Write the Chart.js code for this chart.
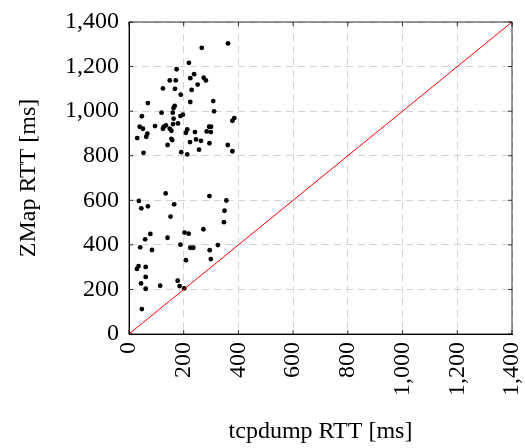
<!DOCTYPE html>
<html>
<head>
<meta charset="utf-8">
<script src="https://cdn.jsdelivr.net/npm/chart.js@4/dist/chart.umd.min.js"></script>
<style>
  html, body { margin: 0; padding: 0; background: #fff; }
  #chart { display: block; }
</style>
</head>
<body>
<canvas id="chart" width="525" height="448"></canvas>
<script>
// tcpdump RTT (x) vs ZMap RTT (y), both in ms
const tcpdumpRtt = [
  362, 266, 219, 174, 238, 224, 149, 171, 273, 281, 251, 124, 168, 229, 189,
  69, 224, 308, 167, 163, 119, 160, 311, 47, 188, 197, 163, 385, 378, 179,
  161, 39, 51, 95, 127, 135, 124, 149, 155, 213, 208, 241, 293, 300, 284,
  299, 67, 63, 30, 155, 158, 223, 245, 263, 294, 141, 361, 256, 378, 53,
  191, 213,
  134, 294, 36, 356, 45, 69, 165, 349, 152, 347, 272, 78, 203, 218, 59,
  141, 41, 188, 84, 224, 235, 295, 325, 208, 299, 35, 29, 61, 61, 44,
  61, 114, 178, 185, 202, 47
];
const zmapRtt = [
  1304, 1284, 1217, 1188, 1166, 1148, 1138, 1138, 1150, 1138, 1119, 1102, 1100, 1095, 1074,
  1036, 1041, 1045, 1023, 1014, 993, 993, 999, 977, 978, 984, 966, 969, 957, 945,
  942, 930, 921, 933, 930, 936, 921, 921, 912, 918, 903, 906, 930, 930, 909,
  906, 899, 885, 879, 876, 870, 861, 873, 867, 856, 848, 848, 827, 820, 813,
  816, 806,
  631, 619, 597, 599, 564, 573, 582, 553, 527, 502, 470, 449, 455, 450, 425,
  432, 389, 401, 377, 387, 387, 376, 399, 331, 336, 305, 292, 301, 256, 227,
  203, 217, 239, 215, 205, 112
];
// reference line y = x
const diagonalX = [0, 1400];
const diagonalY = [0, 1400];
const tickValues = [0, 200, 400, 600, 800, 1000, 1200, 1400];

const serif = "'Liberation Serif', 'DejaVu Serif', serif";
const fmt = v => Number(v).toLocaleString("en-US");

const points = tcpdumpRtt.map((x, i) => ({ x: x, y: zmapRtt[i] }));
const diagonal = diagonalX.map((x, i) => ({ x: x, y: diagonalY[i] }));

// little inward tick marks on all four sides, like pgfplots
const tickMarks = {
  id: "tickMarks",
  afterDraw(chart) {
    const { ctx, chartArea: a, scales } = chart;
    ctx.save();
    ctx.strokeStyle = "#000";
    ctx.lineWidth = 0.8;
    ctx.beginPath();
    tickValues.forEach(v => {
      const px = scales.x.getPixelForValue(v);
      ctx.moveTo(px, a.bottom); ctx.lineTo(px, a.bottom - 4);
      ctx.moveTo(px, a.top); ctx.lineTo(px, a.top + 4);
      const py = scales.y.getPixelForValue(v);
      ctx.moveTo(a.left, py); ctx.lineTo(a.left + 4, py);
      ctx.moveTo(a.right, py); ctx.lineTo(a.right - 4, py);
    });
    ctx.stroke();
    ctx.strokeRect(a.left, a.top, a.right - a.left, a.bottom - a.top);
    ctx.restore();
  }
};

new Chart(document.getElementById("chart"), {
  type: "scatter",
  plugins: [tickMarks],
  data: {
    datasets: [
      {
        data: points,
        backgroundColor: "#000",
        borderWidth: 0,
        pointRadius: 2.4,
        order: 2
      },
      {
        data: diagonal,
        showLine: true,
        borderColor: "#ff0000",
        borderWidth: 1,
        pointRadius: 0,
        order: 1
      }
    ]
  },
  options: {
    responsive: false,
    animation: false,
    layout: { padding: { left: 0, top: 22, right: 13, bottom: 0 } },
    plugins: {
      legend: { display: false },
      tooltip: { enabled: false }
    },
    scales: {
      x: {
        type: "linear",
        min: 0,
        max: 1400,
        afterFit: s => {
          s.height = 114;
          s.paddingLeft = 0;
          s.paddingRight = 0;
        },
        afterBuildTicks: s => { s.ticks = tickValues.map(v => ({ value: v })); },
        grid: { color: "#d4d4d4", lineWidth: 1, drawTicks: false },
        border: { display: true, color: "#000", dash: [7, 5] },
        ticks: {
          color: "#000",
          font: { family: serif, size: 24 },
          minRotation: 90,
          maxRotation: 90,
          padding: 8,
          callback: fmt
        },
        title: {
          display: true,
          text: "tcpdump RTT [ms]",
          color: "#000",
          font: { family: serif, size: 24 },
          padding: { top: 0, bottom: 2 }
        }
      },
      y: {
        type: "linear",
        min: 0,
        max: 1400,
        afterFit: s => {
          s.width = 129;
          s.paddingTop = 0;
          s.paddingBottom = 0;
        },
        afterBuildTicks: s => { s.ticks = tickValues.map(v => ({ value: v })); },
        grid: { color: "#d4d4d4", lineWidth: 1, drawTicks: false },
        border: { display: true, color: "#000", dash: [7, 5] },
        ticks: {
          color: "#000",
          font: { family: serif, size: 24 },
          padding: 10,
          callback: fmt
        },
        title: {
          display: true,
          text: "ZMap RTT [ms]",
          color: "#000",
          font: { family: serif, size: 24 },
          padding: { top: 14, bottom: 0 }
        }
      }
    }
  }
});
</script>
</body>
</html>
